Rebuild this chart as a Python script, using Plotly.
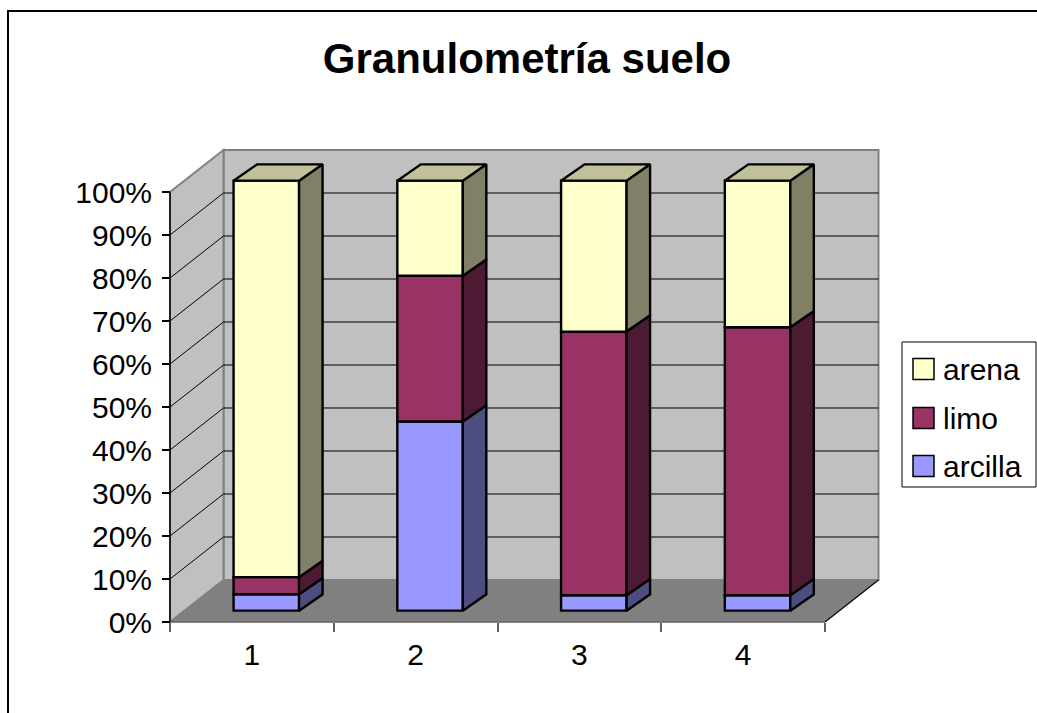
import plotly.graph_objects as go

# ---- data -------------------------------------------------------------
categories = [1, 2, 3, 4]
series_names = ["arcilla", "limo", "arena"]
arcilla = [3.8, 44.0, 3.6, 3.6]
limo = [4.0, 33.9, 61.3, 62.3]
arena = [92.2, 22.1, 35.1, 34.1]
y_ticks = [0, 10, 20, 30, 40, 50, 60, 70, 80, 90, 100]
title_text = "Granulometría suelo"

# ---- page / scale setup ------------------------------------------------
W, H = 1037, 713
X0_PX, PX_PER_CAT = 170.0, 163.75     # left end of the category axis, px per category
Y0_PX, PX_PER_PCT = 622.0, 4.30       # 0 % baseline, px per percent


def cat_at(px):
    return 0.5 + (px - X0_PX) / PX_PER_CAT


def pct_at(py):
    return (Y0_PX - py) / PX_PER_PCT


def paper_x(px):
    return px / W


def paper_y(py):
    return 1 - py / H


# oblique 3D look: depth of the floor / walls and of the columns
FLOOR_DX, FLOOR_DY = 0.3267, 9.77
BAR_Z = 0.27                 # depth fraction where the column fronts sit
BAR_W = 0.40
SIDE_DX, SIDE_DY = 0.1435, 3.79
EDGE_W = 2.4

FONT = "Arial, 'Liberation Sans', sans-serif"

styles = {
    "arcilla": dict(front="#9999FF", side="#4D4D80", top="#7373BF"),
    "limo": dict(front="#993366", side="#4D1A33", top="#73264D"),
    "arena": dict(front="#FFFFCC", side="#808066", top="#C0C099"),
}
values = {"arcilla": arcilla, "limo": limo, "arena": arena}

fig = go.Figure()

# ---- walls and floor (drawn under the columns) -------------------------
x_lo, x_hi = categories[0] - 0.5, categories[-1] + 0.5
y_lo, y_hi = y_ticks[0], y_ticks[-1]


def poly_path(pts):
    return "M " + " L ".join(f"{x},{y}" for x, y in pts) + " Z"


shapes = []
# floor
shapes.append(dict(type="path", xref="x", yref="y", layer="below",
                   path=poly_path([(x_lo, y_lo), (x_hi, y_lo),
                                   (x_hi + FLOOR_DX, y_lo + FLOOR_DY),
                                   (x_lo + FLOOR_DX, y_lo + FLOOR_DY)]),
                   fillcolor="#808080", line=dict(width=0)))
# back wall
shapes.append(dict(type="path", xref="x", yref="y", layer="below",
                   path=poly_path([(x_lo + FLOOR_DX, y_lo + FLOOR_DY),
                                   (x_hi + FLOOR_DX, y_lo + FLOOR_DY),
                                   (x_hi + FLOOR_DX, y_hi + FLOOR_DY),
                                   (x_lo + FLOOR_DX, y_hi + FLOOR_DY)]),
                   fillcolor="#C0C0C0", line=dict(color="#808080", width=2)))
# side wall
shapes.append(dict(type="path", xref="x", yref="y", layer="below",
                   path=poly_path([(x_lo, y_lo), (x_lo, y_hi),
                                   (x_lo + FLOOR_DX, y_hi + FLOOR_DY),
                                   (x_lo + FLOOR_DX, y_lo + FLOOR_DY)]),
                   fillcolor="#C0C0C0", line=dict(color="#808080", width=2)))
# gridlines on both walls
for v in y_ticks[1:-1]:
    shapes.append(dict(type="line", xref="x", yref="y", layer="below",
                       x0=x_lo + FLOOR_DX, x1=x_hi + FLOOR_DX,
                       y0=v + FLOOR_DY, y1=v + FLOOR_DY,
                       line=dict(color="black", width=1)))
    shapes.append(dict(type="line", xref="x", yref="y", layer="below",
                       x0=x_lo, x1=x_lo + FLOOR_DX,
                       y0=v, y1=v + FLOOR_DY,
                       line=dict(color="black", width=1)))
# floor right edge
shapes.append(dict(type="line", xref="x", yref="y", layer="below",
                   x0=x_hi, x1=x_hi + FLOOR_DX, y0=y_lo, y1=y_lo + FLOOR_DY,
                   line=dict(color="black", width=1.2)))
# value axis line and category axis line
shapes.append(dict(type="line", xref="x", yref="y", layer="below",
                   x0=x_lo, x1=x_lo, y0=y_lo, y1=y_hi,
                   line=dict(color="black", width=1.5)))
shapes.append(dict(type="line", xref="x", yref="y", layer="below",
                   x0=x_lo, x1=x_hi, y0=y_lo, y1=y_lo,
                   line=dict(color="#606060", width=1.5)))

# ---- columns --------------------------------------------------------------
x_front = [c + BAR_Z * FLOOR_DX for c in categories]
z_lift = BAR_Z * FLOOR_DY

cum = [0.0] * len(categories)
for name in series_names:
    vals = values[name]
    st = styles[name]
    bases = [c + z_lift for c in cum]

    # front faces
    fig.add_trace(go.Bar(
        x=x_front, y=vals, base=bases, width=BAR_W, name=name,
        marker=dict(color=st["front"], line=dict(color="black", width=EDGE_W)),
        showlegend=False, hoverinfo="skip"))

    # right-hand side faces
    sx, sy = [], []
    for xf, b, v in zip(x_front, bases, vals):
        xr = xf + BAR_W / 2
        sx += [xr, xr + SIDE_DX, xr + SIDE_DX, xr, xr, None]
        sy += [b, b + SIDE_DY, b + v + SIDE_DY, b + v, b, None]
    fig.add_trace(go.Scatter(
        x=sx, y=sy, mode="lines", fill="toself", fillcolor=st["side"],
        line=dict(color="black", width=EDGE_W), showlegend=False, hoverinfo="skip"))

    cum = [c + v for c, v in zip(cum, vals)]

# top faces of the uppermost segment
top_name = series_names[-1]
tx, ty = [], []
for xf, t in zip(x_front, cum):
    top = t + z_lift
    xl, xr = xf - BAR_W / 2, xf + BAR_W / 2
    tx += [xl, xl + SIDE_DX, xr + SIDE_DX, xr, xl, None]
    ty += [top, top + SIDE_DY, top + SIDE_DY, top, top, None]
fig.add_trace(go.Scatter(
    x=tx, y=ty, mode="lines", fill="toself", fillcolor=styles[top_name]["top"],
    line=dict(color="black", width=EDGE_W), showlegend=False, hoverinfo="skip"))

# ---- legend box -------------------------------------------------------------
LEG_L, LEG_R, LEG_T, LEG_B = 902, 1036, 342, 487
shapes.append(dict(type="rect", xref="paper", yref="paper",
                   x0=paper_x(LEG_L), x1=paper_x(LEG_R),
                   y0=paper_y(LEG_B), y1=paper_y(LEG_T),
                   fillcolor="white", line=dict(color="black", width=1)))
annotations = []
legend_rows = [369, 418, 466]
for name, yc in zip(reversed(series_names), legend_rows):
    shapes.append(dict(type="rect", xref="paper", yref="paper",
                       x0=paper_x(913), x1=paper_x(934),
                       y0=paper_y(yc + 10.5), y1=paper_y(yc - 10.5),
                       fillcolor=styles[name]["front"],
                       line=dict(color="black", width=1.5)))
    annotations.append(dict(xref="paper", yref="paper", x=paper_x(941),
                            y=paper_y(yc), xanchor="left", yanchor="middle",
                            text=name, showarrow=False,
                            font=dict(family=FONT, size=30, color="black")))

# outer chart border
shapes.append(dict(type="rect", xref="paper", yref="paper",
                   x0=paper_x(8), x1=paper_x(W + 20),
                   y0=paper_y(H + 20), y1=paper_y(11),
                   line=dict(color="black", width=2), fillcolor="rgba(0,0,0,0)"))

fig.update_layout(
    width=W, height=H, autosize=False,
    margin=dict(l=0, r=0, t=0, b=0),
    paper_bgcolor="white", plot_bgcolor="white",
    barmode="overlay",
    shapes=shapes, annotations=annotations,
    title=dict(text=title_text, x=paper_x(527), y=paper_y(58),
               xanchor="center", yanchor="middle",
               font=dict(family=FONT, size=42, color="black", weight="bold")),
    xaxis=dict(range=[cat_at(0), cat_at(W)], domain=[0, 1],
               anchor="free", position=paper_y(Y0_PX),
               tickvals=categories, ticktext=[str(c) for c in categories],
               ticks="", showgrid=False, zeroline=False, showline=False,
               tickfont=dict(family=FONT, size=30, color="black"),
               ticklabelstandoff=12,
               minor=dict(tickvals=[c - 0.5 for c in categories] + [categories[-1] + 0.5],
                          ticks="outside", ticklen=9, tickwidth=1.5,
                          tickcolor="#606060", showgrid=False),
               fixedrange=True),
    yaxis=dict(range=[pct_at(H), pct_at(0)], domain=[0, 1],
               anchor="free", position=paper_x(X0_PX),
               tickvals=y_ticks, ticktext=[f"{v}%" for v in y_ticks],
               ticks="outside", ticklen=8, tickwidth=1.5, tickcolor="black",
               showgrid=False, zeroline=False, showline=False,
               tickfont=dict(family=FONT, size=30, color="black"),
               ticklabelstandoff=4, fixedrange=True),
    showlegend=False,
)

fig.write_html("out.html", config=dict(displayModeBar=False))
